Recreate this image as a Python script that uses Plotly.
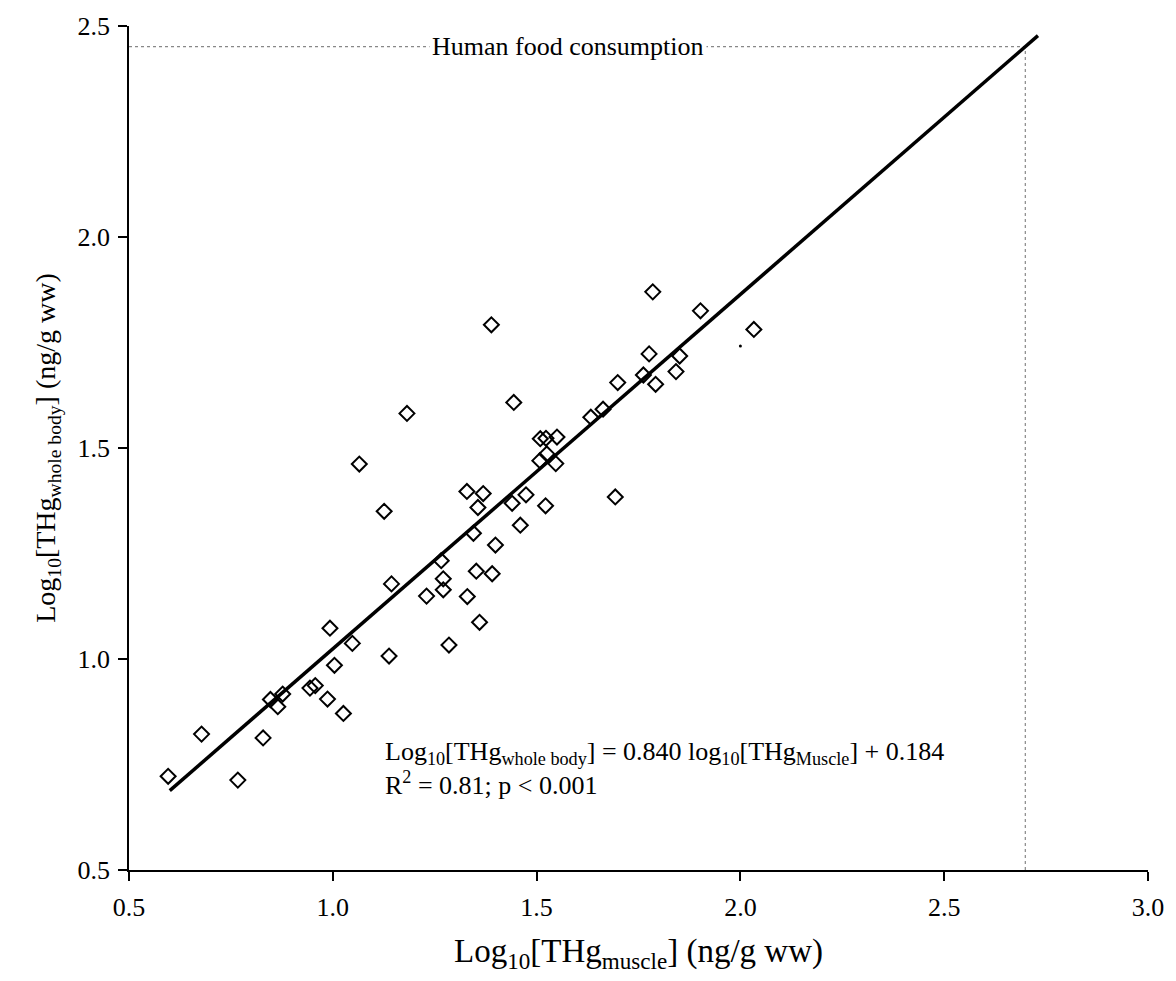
import plotly.graph_objects as go

# Measured data (log10 THg muscle vs log10 THg whole body)
muscle = [0.596, 0.678, 0.767, 0.829, 0.847, 0.865, 0.877, 0.944, 0.957, 0.987,
          1.004, 0.993, 1.026, 1.048, 1.138, 1.144, 1.230, 1.271, 1.271, 1.285,
          1.266, 1.330, 1.352, 1.391, 1.360, 1.345, 1.399, 1.460, 1.329, 1.369,
          1.356, 1.440, 1.474, 1.522, 1.693, 1.126, 1.065, 1.182, 1.389, 1.444,
          1.508, 1.547, 1.525, 1.509, 1.523, 1.550, 1.633, 1.663, 1.699, 1.762,
          1.792, 1.776, 1.842, 1.851, 1.785, 1.902, 2.033]
whole_body = [0.722, 0.822, 0.713, 0.813, 0.904, 0.887, 0.917, 0.931, 0.937, 0.905,
              0.985, 1.073, 0.871, 1.037, 1.007, 1.178, 1.149, 1.190, 1.164, 1.033,
              1.233, 1.148, 1.208, 1.202, 1.087, 1.298, 1.270, 1.317, 1.397, 1.392,
              1.359, 1.369, 1.389, 1.363, 1.384, 1.350, 1.462, 1.582, 1.792, 1.608,
              1.470, 1.463, 1.486, 1.522, 1.523, 1.526, 1.573, 1.592, 1.655, 1.673,
              1.651, 1.723, 1.681, 1.718, 1.870, 1.825, 1.781]

stray_x = [2.0]
stray_y = [1.742]

slope = 0.840
intercept = 0.184
fit_range = [0.6, 2.73]
guideline_muscle = 2.699  # log10(500 ng/g)

x_ticks = [0.5, 1.0, 1.5, 2.0, 2.5, 3.0]
y_ticks = [0.5, 1.0, 1.5, 2.0, 2.5]

fit_y = [slope * v + intercept for v in fit_range]
guideline_whole = slope * guideline_muscle + intercept

FONT = "Liberation Serif"

fig = go.Figure()

# Guideline dotted lines
fig.add_trace(go.Scatter(
    x=[0.5, guideline_muscle], y=[guideline_whole, guideline_whole],
    mode="lines", line=dict(color="#888888", width=1.2, dash="dot"),
    hoverinfo="skip", showlegend=False))
fig.add_trace(go.Scatter(
    x=[guideline_muscle, guideline_muscle], y=[0.5, guideline_whole],
    mode="lines", line=dict(color="#888888", width=1.2, dash="dot"),
    hoverinfo="skip", showlegend=False))

# Regression line
fig.add_trace(go.Scatter(
    x=fit_range, y=fit_y, mode="lines",
    line=dict(color="black", width=3.5), showlegend=False))

# Data points
fig.add_trace(go.Scatter(
    x=muscle, y=whole_body, mode="markers",
    marker=dict(symbol="diamond-open", size=11.5, color="black",
                line=dict(color="black", width=2)),
    showlegend=False))

fig.add_trace(go.Scatter(
    x=stray_x, y=stray_y, mode="markers",
    marker=dict(symbol="circle", size=3, color="black"),
    showlegend=False))

fig.add_annotation(
    x=1.576, y=guideline_whole, xref="x", yref="y",
    text="Human food consumption", showarrow=False,
    font=dict(family=FONT, size=26, color="black"),
    bgcolor="white", borderpad=2)

fig.add_annotation(
    x=1.124, y=0.82, xref="x", yref="y", xanchor="left", yanchor="top",
    align="left", showarrow=False,
    text=("Log<sub>10</sub>[THg<sub>whole body</sub>] = 0.840 log<sub>10</sub>[THg<sub>Muscle</sub>] + 0.184"
          "<br>R<sup>2</sup> = 0.81; p &lt; 0.001"),
    font=dict(family=FONT, size=26, color="black"))

fig.update_layout(
    width=1176, height=981,
    margin=dict(l=129, r=24, t=26, b=111),
    paper_bgcolor="white", plot_bgcolor="white",
    font=dict(family=FONT, color="black"),
)

fig.update_xaxes(
    range=[0.5, 3.0], tickvals=x_ticks, ticktext=[f"{v:.1f}" for v in x_ticks],
    showgrid=False, zeroline=False, showline=True, linecolor="black", linewidth=1.5,
    ticks="outside", ticklen=9, tickwidth=1.5, tickcolor="black",
    tickfont=dict(family=FONT, size=26), ticklabelstandoff=4,
    title=dict(text="Log<sub>10</sub>[THg<sub>muscle</sub>] (ng/g ww)",
               font=dict(family=FONT, size=33), standoff=18),
)
fig.update_yaxes(
    range=[0.5, 2.5], tickvals=y_ticks, ticktext=[f"{v:.1f}" for v in y_ticks],
    showgrid=False, zeroline=False, showline=True, linecolor="black", linewidth=1.5,
    ticks="outside", ticklen=9, tickwidth=1.5, tickcolor="black",
    tickfont=dict(family=FONT, size=26), ticklabelstandoff=3,
    title=dict(text="Log<sub>10</sub>[THg<sub>whole body</sub>] (ng/g ww)",
               font=dict(family=FONT, size=28), standoff=14),
)

fig.write_html("out.html")
